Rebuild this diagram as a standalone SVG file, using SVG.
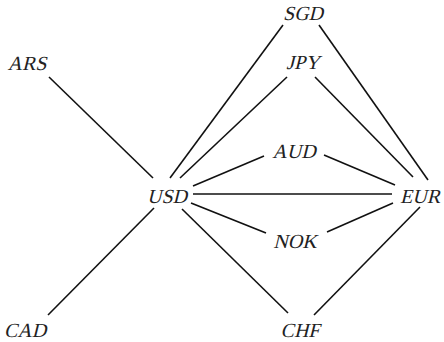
<svg xmlns="http://www.w3.org/2000/svg" width="444" height="342" viewBox="0 0 444 342">
<style>
.e line{stroke:#111;stroke-width:1.6;stroke-linecap:butt}
.t{font-family:"Liberation Serif","Times New Roman",serif;font-style:normal;font-size:20px;fill:#222;text-anchor:middle}
</style>
<rect width="444" height="342" fill="#fff"/>
<g class="e" id="edges">
<line x1="49" y1="77" x2="153" y2="178"/>
<line x1="48" y1="315" x2="154" y2="208"/>
<line x1="170" y1="178" x2="283" y2="25"/>
<line x1="180" y1="178" x2="287" y2="77"/>
<line x1="193" y1="186" x2="264" y2="156"/>
<line x1="193" y1="194" x2="392" y2="194"/>
<line x1="191" y1="203" x2="266" y2="233"/>
<line x1="182" y1="209" x2="288" y2="313"/>
<line x1="319" y1="25" x2="428" y2="180"/>
<line x1="315" y1="77" x2="413" y2="177"/>
<line x1="324" y1="155" x2="395" y2="185"/>
<line x1="327" y1="232" x2="393" y2="203"/>
<line x1="420" y1="207" x2="314" y2="315"/>
</g>
<g id="SGD"><text class="t" transform="translate(303,20) skewX(-14)">SGD</text></g>
<g id="JPY"><text class="t" transform="translate(303,69) skewX(-14)">JPY</text></g>
<g id="ARS"><text class="t" transform="translate(27,70) skewX(-14)">ARS</text></g>
<g id="AUD"><text class="t" transform="translate(294,158) skewX(-14)">AUD</text></g>
<g id="USD"><text class="t" transform="translate(167,203) skewX(-14)">USD</text></g>
<g id="EUR"><text class="t" transform="translate(420,203) skewX(-14)">EUR</text></g>
<g id="NOK"><text class="t" transform="translate(295,248) skewX(-14)">NOK</text></g>
<g id="CAD"><text class="t" transform="translate(25,337) skewX(-14)">CAD</text></g>
<g id="CHF"><text class="t" transform="translate(300,337) skewX(-14)">CHF</text></g>
</svg>
